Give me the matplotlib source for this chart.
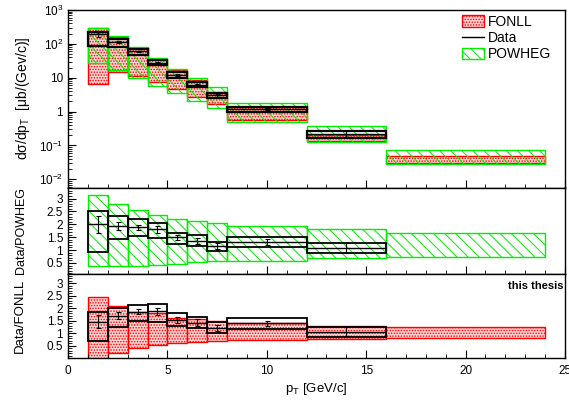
import numpy as np
import matplotlib

matplotlib.use("Agg")
import matplotlib.pyplot as plt
from matplotlib.lines import Line2D
from matplotlib.patches import Patch
from matplotlib.ticker import FixedLocator, FixedFormatter, LogLocator, MultipleLocator, NullFormatter

plt.rcParams["font.family"] = ["Liberation Sans", "DejaVu Sans"]
plt.rcParams["mathtext.fontset"] = "custom"
plt.rcParams["mathtext.rm"] = "Liberation Sans"
plt.rcParams["mathtext.it"] = "Liberation Sans:italic"
plt.rcParams["hatch.linewidth"] = 0.7

# pT bin edges (GeV/c)
edges = [1, 2, 3, 4, 5, 6, 7, 8, 12, 16, 24]

# cross section panel (mub/(GeV/c))
fonll_hi = [300, 160, 76, 37, 16.5, 8.3, 3.9, 1.4, 0.2, 0.049]
fonll_lo = [6.5, 15, 11.5, 7.4, 4.5, 2.7, 1.7, 0.58, 0.135, 0.031]
powheg_hi = [285, 168, 81, 39, 18.5, 10, 5.5, 1.8, 0.37, 0.073]
powheg_lo = [28, 16.5, 10, 5.8, 3.6, 2.1, 1.29, 0.51, 0.13, 0.029]
data_val = [192, 114, 60, 28, 12.3, 6.2, 3.05, 1.2, 0.22]
data_sys_hi = [225, 137, 69, 34, 14.4, 7.4, 3.6, 1.4, 0.26]
data_sys_lo = [85, 81, 48, 23, 10, 5.3, 2.6, 1.0, 0.17]
data_stat_rel = [0.17, 0.08, 0.05, 0.07, 0.07, 0.09, 0.10, 0.08, 0.18]

# Data/POWHEG panel
pow_band_hi = [3.12, 2.79, 2.57, 2.38, 2.22, 2.14, 2.05, 1.92, 1.82, 1.68]
pow_band_lo = [0.38, 0.38, 0.38, 0.42, 0.47, 0.53, 0.58, 0.58, 0.68, 0.72]
r_pow = [2.0, 1.95, 1.88, 1.8, 1.49, 1.36, 1.16, 1.31, 1.07]
r_pow_hi = [2.53, 2.34, 2.22, 2.07, 1.68, 1.57, 1.33, 1.49, 1.27]
r_pow_lo = [0.92, 1.44, 1.53, 1.46, 1.23, 1.14, 0.97, 1.1, 0.88]

# Data/FONLL panel
fonll_band_hi = [2.44, 2.09, 1.86, 1.82, 1.59, 1.55, 1.5, 1.39, 1.3, 1.23]
fonll_band_lo = [-0.1, 0.21, 0.39, 0.52, 0.62, 0.66, 0.69, 0.72, 0.76, 0.79]
r_fonll = [1.46, 1.7, 1.86, 1.87, 1.53, 1.42, 1.22, 1.39, 1.06]
r_fonll_hi = [1.86, 2.0, 2.13, 2.16, 1.8, 1.66, 1.46, 1.62, 1.26]
r_fonll_lo = [0.68, 1.23, 1.49, 1.46, 1.29, 1.19, 0.99, 1.15, 0.86]

RED_FILL = "#ffd2d2"
RED = "#ff0000"
GREEN = "#00ee00"

left = np.array(edges[:-1], dtype=float)
width = np.diff(edges).astype(float)
centers = left + width / 2
nd = len(data_val)


def band(ax, lo, hi, kind):
    lo = np.asarray(lo, dtype=float)
    hi = np.asarray(hi, dtype=float)
    if kind == "fonll":
        ax.bar(left, hi - lo, bottom=lo, width=width, align="edge",
               facecolor=RED_FILL, edgecolor=RED, hatch="......", linewidth=1.0, zorder=1)
    else:
        ax.bar(left, hi - lo, bottom=lo, width=width, align="edge",
               facecolor="none", edgecolor=GREEN, hatch="\\\\\\", linewidth=1.0, zorder=2)


def data_boxes(ax, val, lo, hi, lw=1.3):
    val = np.asarray(val, dtype=float)
    lo = np.asarray(lo, dtype=float)
    hi = np.asarray(hi, dtype=float)
    ax.bar(left[:nd], hi - lo, bottom=lo, width=width[:nd], align="edge",
           fill=False, edgecolor="black", linewidth=lw, zorder=3)
    ax.hlines(val, left[:nd], left[:nd] + width[:nd], colors="black", linewidth=1.0, zorder=3)
    err = val * np.asarray(data_stat_rel)
    ax.errorbar(centers[:nd], val, yerr=err, fmt="none", ecolor="black",
                elinewidth=0.8, capsize=1.8, capthick=0.8, zorder=4)


def style(ax):
    ax.set_xlim(0, 25)
    ax.xaxis.set_major_locator(MultipleLocator(5))
    ax.xaxis.set_minor_locator(MultipleLocator(1))
    ax.tick_params(which="both", direction="in", top=False, right=False, labelsize=8.5)
    ax.tick_params(which="major", length=6, width=0.8)
    ax.tick_params(which="minor", length=3, width=0.6)
    for s in ax.spines.values():
        s.set_linewidth(1.0)


fig = plt.figure(figsize=(5.69, 4.03), dpi=100)
x0, x1 = 68 / 569, 565 / 569
ax_top = fig.add_axes([x0, 1 - 187.5 / 403, x1 - x0, (187.5 - 10) / 403])
ax_pow = fig.add_axes([x0, 1 - 274 / 403, x1 - x0, (274 - 187.5) / 403])
ax_fon = fig.add_axes([x0, 1 - 358 / 403, x1 - x0, (358 - 274) / 403])

# top: cross section
band(ax_top, fonll_lo, fonll_hi, "fonll")
band(ax_top, powheg_lo, powheg_hi, "powheg")
data_boxes(ax_top, data_val, data_sys_lo, data_sys_hi, lw=1.6)
ax_top.set_yscale("log")
ax_top.set_ylim(10 ** -2.24, 1e3)
style(ax_top)
ax_top.yaxis.set_major_locator(FixedLocator([1e-2, 1e-1, 1, 10, 1e2, 1e3]))
ax_top.yaxis.set_major_formatter(FixedFormatter(
    [r"$10^{-2}$", r"$10^{-1}$", "1", "10", r"$10^{2}$", r"$10^{3}$"]))
ax_top.yaxis.set_minor_locator(LogLocator(base=10, subs=np.arange(2, 10), numticks=20))
ax_top.yaxis.set_minor_formatter(NullFormatter())
ax_top.set_xticklabels([])
ax_top.set_ylabel("dσ/dp$_{\\mathrm{T}}$  [μb/(Gev/c)]", fontsize=10)
ax_top.yaxis.set_label_coords(-0.072, 0.5)

handles = [
    Patch(facecolor=RED_FILL, edgecolor=RED, hatch="......", linewidth=1.0),
    Line2D([0], [0], color="black", linewidth=1.0),
    Patch(facecolor="none", edgecolor=GREEN, hatch="\\\\\\", linewidth=1.0),
]
ax_top.legend(handles, ["FONLL", "Data", "POWHEG"], loc="upper left",
              bbox_to_anchor=(0.77, 1.035), frameon=False, fontsize=10,
              handlelength=1.6, handleheight=0.9, handletextpad=0.3,
              labelspacing=0.15, borderpad=0.3)

# middle: Data/POWHEG
band(ax_pow, pow_band_lo, pow_band_hi, "powheg")
data_boxes(ax_pow, r_pow, r_pow_lo, r_pow_hi)
ax_pow.set_ylim(0.07, 3.43)
style(ax_pow)
ax_pow.yaxis.set_major_locator(FixedLocator([0.5, 1, 1.5, 2, 2.5, 3]))
ax_pow.yaxis.set_major_formatter(FixedFormatter(["0.5", "1", "1.5", "2", "2.5", "3"]))
ax_pow.yaxis.set_minor_locator(MultipleLocator(0.1))
ax_pow.set_xticklabels([])
ax_pow.set_ylabel("Data/POWHEG", fontsize=9)
ax_pow.yaxis.set_label_coords(-0.082, 0.5)

# bottom: Data/FONLL
band(ax_fon, fonll_band_lo, fonll_band_hi, "fonll")
data_boxes(ax_fon, r_fonll, r_fonll_lo, r_fonll_hi)
ax_fon.set_ylim(0.0, 3.37)
style(ax_fon)
ax_fon.yaxis.set_major_locator(FixedLocator([0.5, 1, 1.5, 2, 2.5, 3]))
ax_fon.yaxis.set_major_formatter(FixedFormatter(["0.5", "1", "1.5", "2", "2.5", "3"]))
ax_fon.yaxis.set_minor_locator(MultipleLocator(0.1))
ax_fon.set_ylabel("Data/FONLL", fontsize=9.5)
ax_fon.yaxis.set_label_coords(-0.084, 0.5)
ax_fon.set_xlabel(r"p$_{\mathrm{T}}$ [GeV/c]", fontsize=9.5, labelpad=3)
ax_fon.tick_params(axis="x", pad=5)
ax_fon.text(0.997, 0.86, "this thesis", transform=ax_fon.transAxes, ha="right",
            va="center", fontsize=8, fontweight="bold")

fig.savefig("out.png", dpi=100)
